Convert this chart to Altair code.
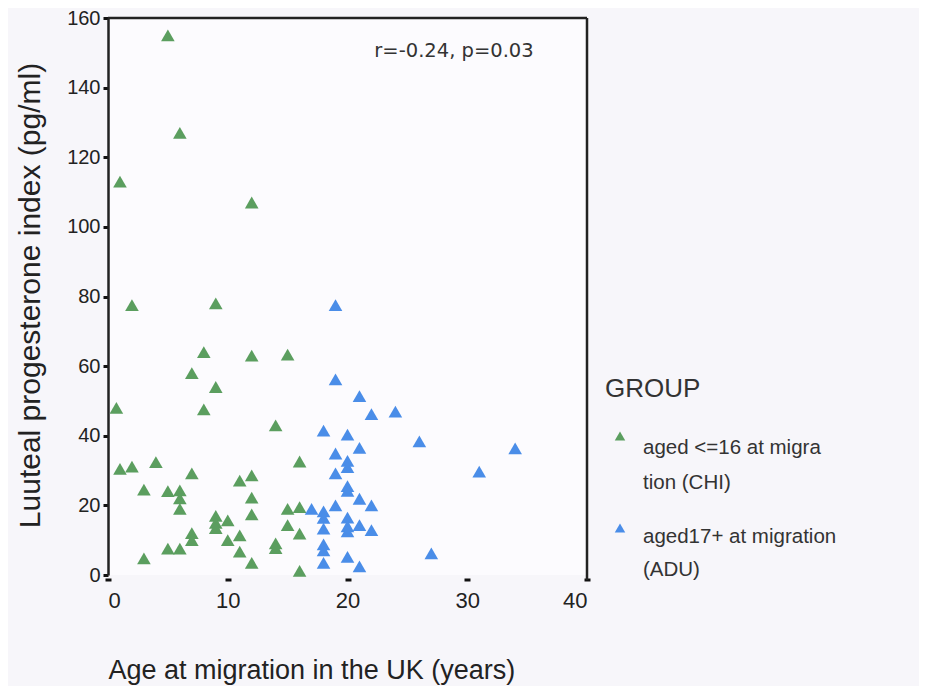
import altair as alt
import pandas as pd

# ---- data ----
chi_age = [5, 6, 1, 12, 2, 9, 8, 12, 15, 7, 9, 0.7, 8, 14, 1, 2, 4, 7, 16, 3, 5, 6, 6, 6,
           11, 12, 12, 12, 9, 9, 9, 10, 10, 11, 11, 12, 7, 7, 5, 6, 3, 15, 16, 15, 16, 14, 14, 16]
chi_lpi = [155, 127, 113, 107, 77.5, 78, 64, 63, 63.3, 58, 54, 48, 47.6, 43, 30.5, 31.1, 32.4,
           29.2, 32.6, 24.5, 24.1, 24.3, 22, 19, 27.1, 28.6, 22.2, 17.4, 17, 15, 13.5, 15.7, 10,
           11.4, 6.7, 3.5, 12, 10, 7.6, 7.6, 4.8, 19, 19.5, 14.3, 11.9, 9.1, 7.7, 1.2]
adu_age = [19, 19, 21, 22, 24, 18, 20, 26, 34, 21, 19, 20, 20, 19, 31, 20, 20, 21, 22, 19, 17,
           18, 18, 20, 20, 20, 21, 22, 18, 18, 18, 18, 20, 21, 27]
adu_lpi = [77.5, 56.2, 51.4, 46.2, 46.9, 41.5, 40.3, 38.4, 36.4, 36.5, 34.9, 32.8, 31.0, 29.2,
           29.7, 25.5, 24.2, 21.9, 20, 20, 19, 18.3, 16.4, 16.5, 14.0, 12.5, 14.3, 12.9, 13.3,
           8.8, 7.1, 3.5, 5.2, 2.5, 6.2]
groups = ["CHI", "ADU"]
group_colors = ["#5b9e5f", "#4a8de8"]
legend_title = "GROUP"
legend_lines = [["aged <=16 at migra", "tion (CHI)"], ["aged17+ at migration", "(ADU)"]]
annotation = "r=-0.24, p=0.03"
x_title = "Age at migration in the UK (years)"
y_title = "Luuteal progesterone index (pg/ml)"
x_ticks = [0, 10, 20, 30, 40]
y_ticks = [0, 20, 40, 60, 80, 100, 120, 140, 160]

df = pd.DataFrame({
    "age": chi_age + adu_age,
    "lpi": chi_lpi + adu_lpi,
    "group": [groups[0]] * len(chi_age) + [groups[1]] * len(adu_age),
})
one = pd.DataFrame({"k": [0]})

W, H = 479, 557
TOP = 10
FONT = "Liberation Sans"
INK = "#222222"

points = alt.Chart(df).mark_point(shape="triangle-up", filled=True, size=185, opacity=1).encode(
    x=alt.X("age:Q", scale=alt.Scale(domain=[0, 40], nice=False, zero=False),
            axis=alt.Axis(values=x_ticks, title=x_title, domain=False, grid=False,
                          tickSize=3, tickWidth=6, tickColor="#111", offset=3,
                          labelFontSize=22, labelPadding=9, labelFont=FONT, labelColor=INK,
                          titleFont=FONT, titleFontSize=27, titleFontWeight="normal",
                          titleColor=INK, titleAlign="left", titleAnchor="start",
                          titleX=0, titleY=100, titleBaseline="alphabetic")),
    y=alt.Y("lpi:Q", scale=alt.Scale(domain=[0, 160], nice=False),
            axis=alt.Axis(values=y_ticks, title=y_title, domain=True, domainColor=INK,
                          domainWidth=2.5, grid=False, tickSize=5, tickWidth=3,
                          tickColor="#111", labelFontSize=20, labelPadding=3,
                          labelFont=FONT, labelColor=INK, titleFont=FONT, titleFontSize=30,
                          titleFontWeight="normal", titleColor=INK, titleX=-78, titleY=277,
                          titleAlign="center", titleBaseline="middle")),
    color=alt.Color("group:N", scale=alt.Scale(domain=groups, range=group_colors), legend=None),
)

top_rule = alt.Chart(one).mark_rule(color=INK, strokeWidth=2.5).encode(
    x=alt.value(0), x2=alt.value(W), y=alt.value(0))
right_rule = alt.Chart(one).mark_rule(color=INK, strokeWidth=2.5).encode(
    x=alt.value(W), y=alt.value(0), y2=alt.value(H + 5))

ann = alt.Chart(one).mark_text(font="DejaVu Sans", fontSize=19.5, color="#333",
                               align="center", baseline="alphabetic").encode(
    x=alt.value(346), y=alt.value(39), text=alt.value(annotation))

layers = [points, top_rule, right_rule, ann]

layers.append(alt.Chart(one).mark_text(font=FONT, fontSize=26, color="#333", align="left",
                                       baseline="alphabetic").encode(
    x=alt.value(497), y=alt.value(379), text=alt.value(legend_title)))

sym_y = [418, 510]
line_y = [[436, 471], [525, 558]]
for i in range(2):
    layers.append(alt.Chart(one).mark_point(shape="triangle-up", filled=True, size=110,
                                            opacity=1, color=group_colors[i]).encode(
        x=alt.value(512), y=alt.value(sym_y[i])))
    for j in range(2):
        layers.append(alt.Chart(one).mark_text(font=FONT, fontSize=20.5, color="#333",
                                               align="left", baseline="alphabetic").encode(
            x=alt.value(535), y=alt.value(line_y[i][j]), text=alt.value(legend_lines[i][j])))

chart = alt.layer(*layers).properties(
    width=W, height=H,
    autosize=alt.AutoSizeParams(type="none"),
    padding={"left": 100, "top": TOP, "right": 332, "bottom": 678 - TOP - H},
    background="#f7f6fa",
).configure_view(stroke=None, fill="#fcfbfe")

chart.save("out.html", embed_options={"renderer": "svg", "actions": False})
